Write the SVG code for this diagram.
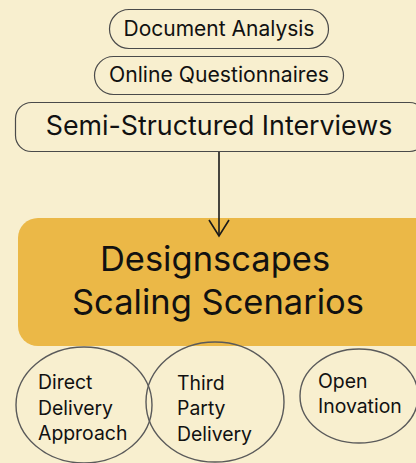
<svg xmlns="http://www.w3.org/2000/svg" width="416" height="463" viewBox="0 0 416 463">
  <defs>
    <style>
      .pill { fill: #F8EFCF; stroke: #4a4a4a; stroke-width: 1.2; }
      .oval { fill: none; stroke: #5a5a5a; stroke-width: 1.4; }
      .t { font-family: Inter, Roboto, "Liberation Sans", sans-serif; fill: #111; }
      .conn { stroke: #1a1a1a; stroke-width: 1.6; fill: none; }
    </style>
    <marker id="arrow" viewBox="0 0 20 24" refX="18" refY="12" markerWidth="20" markerHeight="24" markerUnits="userSpaceOnUse" orient="auto">
      <path d="M2 2 L18 12 L2 22" fill="none" stroke="#1a1a1a" stroke-width="1.6"/>
    </marker>
  </defs>
  <rect width="416" height="463" fill="#F8EFCF"/>

  <g id="document-analysis">
    <rect class="pill" x="109.5" y="9.5" width="219" height="39" rx="19.5"/>
    <text class="t" x="219" y="36" font-size="21" text-anchor="middle">Document Analysis</text>
  </g>
  <g id="online-questionnaires">
    <rect class="pill" x="94.5" y="56.5" width="249" height="38" rx="19"/>
    <text class="t" x="219" y="82" font-size="21.2" text-anchor="middle">Online Questionnaires</text>
  </g>
  <g id="interviews">
    <rect class="pill" x="15.5" y="102.5" width="410" height="49" rx="16"/>
    <text class="t" x="219" y="135" font-size="26.8" text-anchor="middle">Semi-Structured Interviews</text>
  </g>

  <g id="scaling-scenarios">
    <rect x="18" y="218" width="420" height="128" rx="20" fill="#EBB847"/>
    <text class="t" x="215" y="271" font-size="34.5" text-anchor="middle">Designscapes</text>
    <text class="t" x="218" y="314" font-size="34.5" text-anchor="middle">Scaling Scenarios</text>
  </g>

  <g id="connectors">
    <path class="conn" d="M219 152 V236" marker-end="url(#arrow)"/>
  </g>

  <g id="direct-delivery">
    <ellipse class="oval" cx="84" cy="405" rx="68" ry="58"/>
    <text class="t" font-size="19.4"><tspan x="38" y="389">Direct</tspan><tspan x="38" y="415">Delivery</tspan><tspan x="38" y="440">Approach</tspan></text>
  </g>
  <g id="third-party">
    <ellipse class="oval" cx="215" cy="402" rx="69" ry="60"/>
    <text class="t" font-size="19.4"><tspan x="177" y="390">Third</tspan><tspan x="177" y="415">Party</tspan><tspan x="177" y="441">Delivery</tspan></text>
  </g>
  <g id="open-innovation">
    <ellipse class="oval" cx="359" cy="396" rx="59" ry="47"/>
    <text class="t" font-size="19.4"><tspan x="318" y="388">Open</tspan><tspan x="318" y="413">Inovation</tspan></text>
  </g>
</svg>
